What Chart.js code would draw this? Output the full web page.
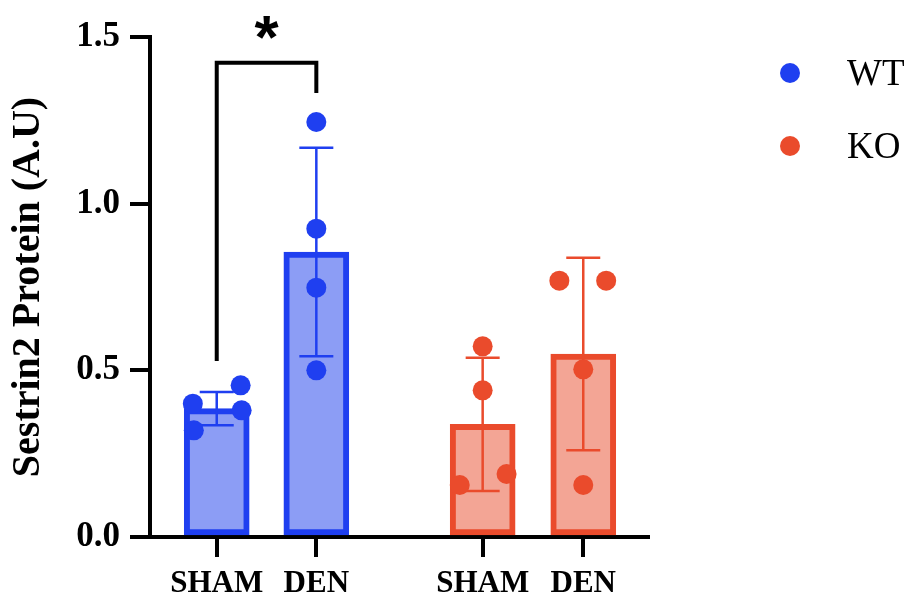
<!DOCTYPE html>
<html lang="en">
<head>
<meta charset="UTF-8">
<title>Sestrin2 Protein</title>
<script src="https://cdn.jsdelivr.net/npm/chart.js"></script>
<style>
  html, body { margin: 0; padding: 0; background: #fff; }
  #wrap { width: 914px; height: 598px; }
</style>
</head>
<body>
<div id="wrap"><canvas id="chart" width="914" height="598"></canvas></div>
<script>
// groups / bars
const groups = ['WT', 'KO'];
const xLabels = ['SHAM', 'DEN', 'SHAM', 'DEN'];
const xPos = [1, 2, 3.67, 4.68];
const barGroup = [0, 0, 1, 1];
const means = [0.385, 0.855, 0.338, 0.549];
const sds = [0.05, 0.313, 0.2, 0.289];

// individual animals
const points = [
  [0.455, 0.40, 0.38, 0.32],
  [1.245, 0.925, 0.748, 0.50],
  [0.572, 0.44, 0.156, 0.189],
  [0.769, 0.769, 0.503, 0.156]
];
const jitter = [
  [0.24, -0.24, 0.25, -0.23],
  [0, 0, 0, 0],
  [0, 0, -0.23, 0.24],
  [-0.24, 0.23, 0, 0]
];

// significance bracket (WT SHAM vs WT DEN)
const sig = { from: 0, to: 1, top: 1.423, leftEnd: 0.528, rightEnd: 1.332, label: '*' };

const lineCol = ['#1f3ff0', '#ea4b2c'];
const fillCol = ['#8c9df5', '#f3a595'];

function groupPoints(g) {
  const out = [];
  points.forEach((arr, i) => {
    if (barGroup[i] !== g) return;
    arr.forEach((v, j) => out.push({ x: xPos[i] + jitter[i][j], y: v }));
  });
  return out;
}

const extras = {
  id: 'extras',
  afterDatasetDraw(chart, args) {
    if (args.index !== 0) return;
    const ctx = chart.ctx, x = chart.scales.x, y = chart.scales.y;
    ctx.save();
    ctx.lineWidth = 2.5;
    means.forEach((m, i) => {
      const cx = x.getPixelForValue(xPos[i]);
      const hi = y.getPixelForValue(m + sds[i]);
      const lo = y.getPixelForValue(m - sds[i]);
      ctx.strokeStyle = lineCol[barGroup[i]];
      ctx.beginPath();
      ctx.moveTo(cx, hi); ctx.lineTo(cx, lo);
      ctx.moveTo(cx - 17, hi); ctx.lineTo(cx + 17, hi);
      ctx.moveTo(cx - 17, lo); ctx.lineTo(cx + 17, lo);
      ctx.stroke();
    });
    ctx.restore();
  },
  afterDraw(chart) {
    const ctx = chart.ctx, x = chart.scales.x, y = chart.scales.y, area = chart.chartArea;
    ctx.save();
    // bracket
    const x1 = x.getPixelForValue(xPos[sig.from]);
    const x2 = x.getPixelForValue(xPos[sig.to]);
    const yt = y.getPixelForValue(sig.top);
    ctx.strokeStyle = '#000';
    ctx.lineWidth = 4;
    ctx.beginPath();
    ctx.moveTo(x1, y.getPixelForValue(sig.leftEnd));
    ctx.lineTo(x1, yt);
    ctx.lineTo(x2, yt);
    ctx.lineTo(x2, y.getPixelForValue(sig.rightEnd));
    ctx.stroke();
    ctx.fillStyle = '#000';
    ctx.font = 'bold 62px "Liberation Sans"';
    ctx.textAlign = 'center';
    ctx.textBaseline = 'alphabetic';
    const m = ctx.measureText(sig.label);
    const cy = yt - 35;
    ctx.fillText(sig.label, (x1 + x2) / 2, cy + (m.actualBoundingBoxAscent - m.actualBoundingBoxDescent) / 2);

    // legend
    ctx.font = '37px "Liberation Serif"';
    ctx.textAlign = 'left';
    ctx.textBaseline = 'middle';
    groups.forEach((g, i) => {
      const ly = area.top + 36 + i * 73;
      const lx = area.right + 142;
      ctx.fillStyle = lineCol[i];
      ctx.beginPath();
      ctx.arc(lx, ly, 10, 0, Math.PI * 2);
      ctx.fill();
      ctx.fillStyle = '#000';
      ctx.fillText(g, lx + 57, ly + 2);
    });
    ctx.restore();
  }
};

new Chart(document.getElementById('chart'), {
  type: 'bar',
  data: {
    datasets: [
      {
        type: 'bar',
        order: 2,
        data: means.map((m, i) => ({ x: xPos[i], y: m })),
        backgroundColor: barGroup.map(g => fillCol[g]),
        borderColor: barGroup.map(g => lineCol[g]),
        borderWidth: 6,
        borderSkipped: false,
        barThickness: 65
      },
      ...groups.map((g, gi) => ({
        type: 'scatter',
        label: g,
        order: 1,
        data: groupPoints(gi),
        backgroundColor: lineCol[gi],
        borderWidth: 0,
        pointRadius: 10,
        clip: false
      }))
    ]
  },
  options: {
    responsive: false,
    animation: false,
    events: [],
    layout: { padding: { top: 37, right: 266, left: 0, bottom: 0 } },
    plugins: { legend: { display: false }, tooltip: { enabled: false } },
    scales: {
      x: {
        type: 'linear',
        min: 0.33,
        max: 5.33,
        offset: false,
        afterFit(s) { s.height = 61; },
        afterBuildTicks(s) { s.ticks = xPos.map(v => ({ value: v })); },
        grid: { offset: false, drawOnChartArea: false, drawTicks: true, tickLength: 20, lineWidth: 4, color: '#000' },
        border: { display: true, width: 4, color: '#000' },
        ticks: {
          autoSkip: false,
          maxRotation: 0,
          padding: 8,
          color: '#000',
          font: { family: '"Liberation Serif"', weight: 'bold', size: 31 },
          callback: (v, i) => xLabels[i]
        }
      },
      y: {
        type: 'linear',
        min: 0,
        max: 1.5,
        afterFit(s) { s.width = 150; },
        grid: { drawOnChartArea: false, drawTicks: true, tickLength: 20, lineWidth: 4, color: '#000' },
        border: { display: true, width: 4, color: '#000' },
        ticks: {
          stepSize: 0.5,
          padding: 10,
          color: '#000',
          font: { family: '"Liberation Serif"', weight: 'bold', size: 35 },
          callback: v => v.toFixed(1)
        },
        title: {
          display: true,
          text: 'Sestrin2 Protein (A.U)',
          color: '#000',
          padding: { top: 5, bottom: 0 },
          font: { family: '"Liberation Serif"', weight: 'bold', size: 40 }
        }
      }
    }
  },
  plugins: [extras]
});
</script>
</body>
</html>
